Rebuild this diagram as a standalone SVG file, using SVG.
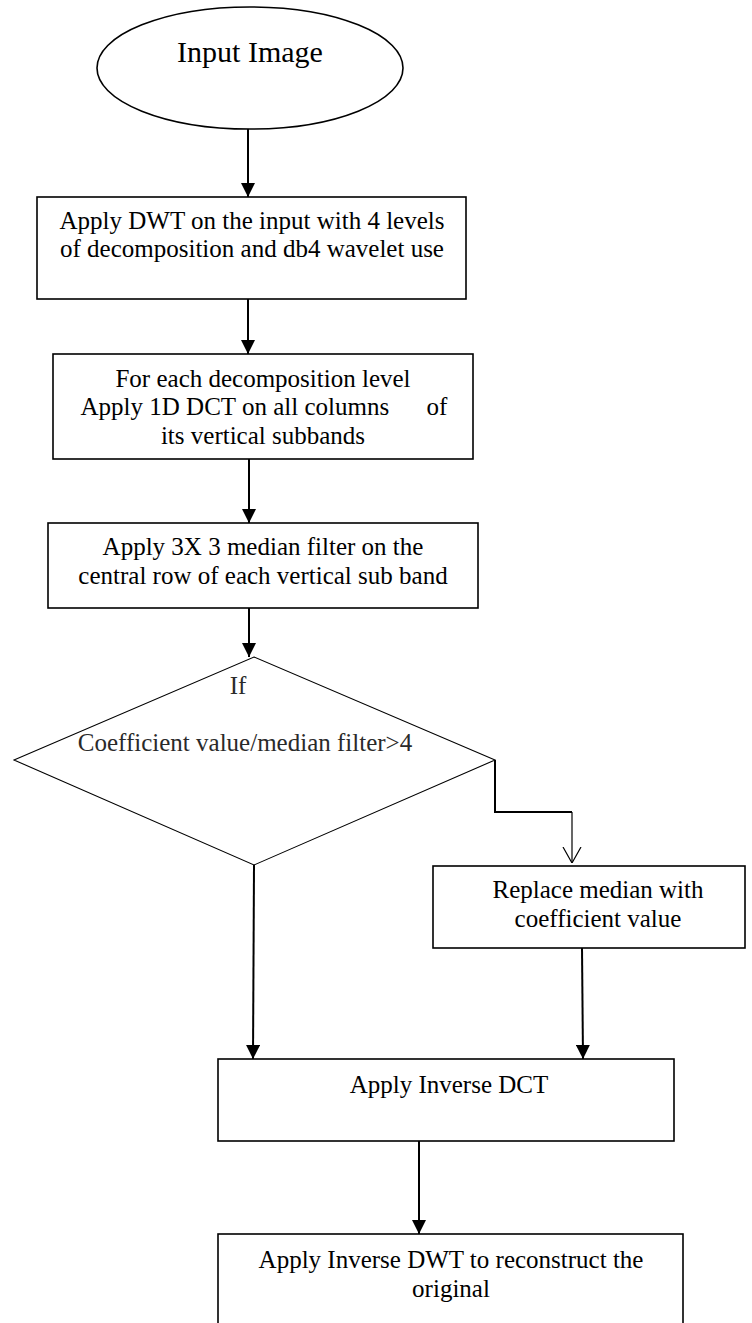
<svg xmlns="http://www.w3.org/2000/svg" width="752" height="1323" viewBox="0 0 752 1323">
<defs>
<style>
.box{fill:#fff;stroke:#000;stroke-width:1.6}
.dia{fill:#fff;stroke:#000;stroke-width:1.1}
.t{font-family:"Liberation Serif","Times New Roman",serif;font-size:25px;fill:#000;text-anchor:middle}
.g{fill:#2a2a2a}
.c{fill:none;stroke:#000;stroke-width:2}
.c1{fill:none;stroke:#000;stroke-width:1.2}
</style>
<marker id="ah" viewBox="0 0 14 14" refX="14" refY="7" markerWidth="14" markerHeight="14" markerUnits="userSpaceOnUse" orient="auto">
<path d="M0,0 L14,7 L0,14 Z" fill="#000"/>
</marker>
<marker id="oh" viewBox="0 0 16 20" refX="16" refY="10" markerWidth="16" markerHeight="20" markerUnits="userSpaceOnUse" orient="auto">
<path d="M0,1 L16,10 L0,19" fill="none" stroke="#000" stroke-width="1.2"/>
</marker>
</defs>
<rect width="752" height="1323" fill="#fff"/>
<g id="n-input">
<ellipse cx="250" cy="68" rx="153" ry="61" class="box"/>
<text x="250" y="62" class="t" style="font-size:30px">Input Image</text>
</g>
<g id="n-dwt">
<rect x="37" y="197" width="429" height="102" class="box"/>
<text x="252" y="229" class="t">Apply DWT on the input with 4 levels</text>
<text x="252" y="257" class="t">of decomposition and db4 wavelet use</text>
</g>
<g id="n-dct">
<rect x="53" y="354" width="420" height="105" class="box"/>
<text x="263" y="387" class="t">For each decomposition level</text>
<text x="264" y="415" class="t" xml:space="preserve">Apply 1D DCT on all columns      of</text>
<text x="263" y="444" class="t">its vertical subbands</text>
</g>
<g id="n-median">
<rect x="48" y="523" width="430" height="85" class="box"/>
<text x="263" y="555" class="t">Apply 3X 3 median filter on the</text>
<text x="263" y="584" class="t">central row of each vertical sub band</text>
</g>
<g id="n-if">
<polygon points="254,657 495,760 254,865 14,760" class="dia"/>
<text x="238" y="694" class="t g">If</text>
<text x="245" y="751" class="t g">Coefficient value/median filter&gt;4</text>
</g>
<g id="n-replace">
<rect x="433" y="866" width="312" height="82" class="box"/>
<text x="598" y="898" class="t">Replace median with</text>
<text x="598" y="927" class="t">coefficient value</text>
</g>
<g id="n-idct">
<rect x="218" y="1059" width="456" height="82" class="box"/>
<text x="449" y="1093" class="t">Apply Inverse DCT</text>
</g>
<g id="n-idwt">
<rect x="218" y="1234" width="465" height="100" class="box"/>
<text x="451" y="1268" class="t">Apply Inverse DWT to reconstruct the</text>
<text x="451" y="1297" class="t">original</text>
</g>
<g id="connectors">
<line x1="248" y1="129" x2="248" y2="197" class="c" marker-end="url(#ah)"/>
<line x1="248" y1="299" x2="248" y2="354" class="c" marker-end="url(#ah)"/>
<line x1="249" y1="459" x2="249" y2="523" class="c" marker-end="url(#ah)"/>
<line x1="249" y1="608" x2="249" y2="657" class="c" marker-end="url(#ah)"/>
<line x1="254" y1="865" x2="253" y2="1059" class="c" marker-end="url(#ah)"/>
<path d="M495,760 L495,812 L572,812" class="c"/>
<line x1="572" y1="812" x2="572" y2="863" class="c1" marker-end="url(#oh)"/>
<line x1="582" y1="948" x2="583" y2="1059" class="c" marker-end="url(#ah)"/>
<line x1="419" y1="1141" x2="419" y2="1234" class="c" marker-end="url(#ah)"/>
</g>
</svg>
